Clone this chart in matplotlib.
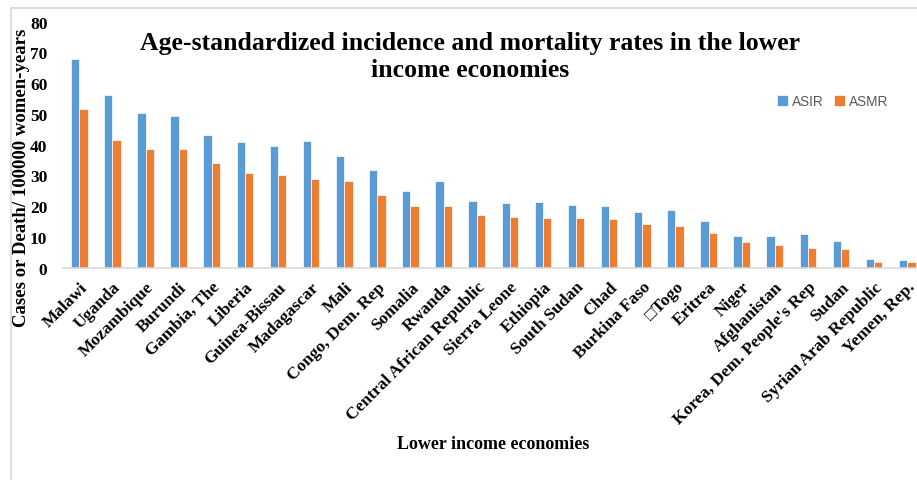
import matplotlib.pyplot as plt
import numpy as np
from matplotlib.lines import Line2D

countries = ["Malawi", "Uganda", "Mozambique", "Burundi", "Gambia, The", "Liberia",
             "Guinea-Bissau", "Madagascar", "Mali", "Congo, Dem. Rep", "Somalia", "Rwanda",
             "Central African Republic", "Sierra Leone", "Ethiopia", "South Sudan", "Chad",
             "Burkina Faso", "\u25a1Togo", "Eritrea", "Niger", "Afghanistan",
             "Korea, Dem. People's Rep", "Sudan", "Syrian Arab Republic", "Yemen, Rep."]
asir = [67.9, 56.2, 50.2, 49.2, 43.0, 40.8, 39.6, 41.2, 36.4, 31.9, 25.1, 28.2, 21.8,
        21.2, 21.5, 20.5, 20.2, 18.1, 18.9, 15.2, 10.3, 10.3, 11.1, 8.6, 2.7, 2.4]
asmr = [51.5, 41.5, 38.6, 38.5, 34.0, 30.8, 30.3, 28.9, 28.2, 23.7, 20.2, 20.1, 17.2,
        16.5, 16.0, 16.0, 15.9, 14.2, 13.6, 11.3, 8.3, 7.5, 6.4, 6.1, 1.9, 1.8]
yticks = [0, 10, 20, 30, 40, 50, 60, 70, 80]

serif = "Liberation Serif"
blue = "#5B9BD5"
orange = "#ED7D31"

fig = plt.figure(figsize=(9.17, 4.81), dpi=100)
ax = fig.add_axes([0.0684, 0.4414, 0.939, 0.5114])

x = np.arange(len(countries))
w = 0.25
ax.bar(x - w / 2, asir, width=w, color=blue, edgecolor="white", linewidth=0.5, label="ASIR")
ax.bar(x + w / 2, asmr, width=w, color=orange, edgecolor="white", linewidth=0.5, label="ASMR")

ax.set_xlim(-0.5, len(countries) - 0.5)
ax.set_ylim(0, 80)
ax.set_yticks(yticks)
ax.set_yticklabels([str(v) for v in yticks], fontfamily=serif, fontweight="bold", fontsize=12.5)
ax.set_xticks(x)
ax.set_xticklabels(countries, rotation=45, ha="right", rotation_mode="anchor",
                   fontfamily=[serif, "DejaVu Sans"], fontweight="bold", fontsize=12.5)
ax.tick_params(axis="both", length=0)
ax.tick_params(axis="x", pad=8)
ax.tick_params(axis="y", pad=11)

for s in ["top", "right", "left"]:
    ax.spines[s].set_visible(False)
ax.spines["bottom"].set_color("#D9D9D9")
ax.spines["bottom"].set_linewidth(1.2)

ax.set_ylabel("Cases or Death/ 100000 women-years", fontfamily=serif, fontweight="bold",
              fontsize=13.5)
ax.yaxis.set_label_coords(-0.038, 0.37)

fig.text(0.513, 0.882, "Age-standardized incidence and mortality rates in the lower\nincome economies",
         ha="center", va="center", fontfamily=serif, fontweight="bold", fontsize=18.5,
         linespacing=1.22)
fig.text(0.538, 0.075, "Lower income economies", ha="center", va="center",
         fontfamily=serif, fontweight="bold", fontsize=13)

leg = ax.legend(loc="upper left", bbox_to_anchor=(0.815, 0.755), ncol=2, frameon=False,
                prop={"family": "Liberation Sans", "size": 9.8}, handlelength=0.8,
                handleheight=0.8, handletextpad=0.3, columnspacing=0.8)
for t in leg.get_texts():
    t.set_color("#595959")

# light chart-area border
fig.add_artist(Line2D([0.012, 0.012], [0.0, 0.981], color="#D9D9D9", linewidth=1.2,
                      transform=fig.transFigure))
fig.add_artist(Line2D([0.012, 1.0], [0.981, 0.981], color="#D9D9D9", linewidth=1.2,
                      transform=fig.transFigure))

fig.savefig("out.png", dpi=100)
